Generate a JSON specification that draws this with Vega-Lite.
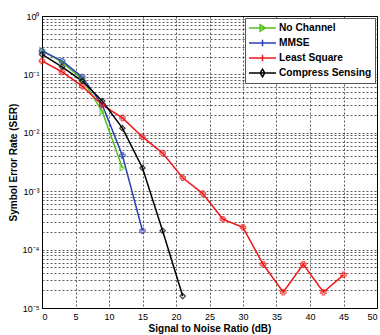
{
  "$schema": "https://vega.github.io/schema/vega-lite/v6.json",
  "width": 335,
  "height": 292,
  "autosize": "none",
  "padding": {"left": 42, "top": 16, "right": 3, "bottom": 27},
  "background": "white",
  "config": {
    "font": "Liberation Sans",
    "view": {"stroke": "black", "strokeWidth": 1},
    "axis": {
      "gridColor": "black", "gridDash": [2, 2], "gridOpacity": 0.8, "gridWidth": 0.8,
      "domainColor": "black", "tickColor": "black", "labelColor": "black", "titleColor": "black",
      "labelFontSize": 9, "titleFontSize": 10, "titleFontWeight": "bold"
    }
  },
  "data": {"values": [
    {"snr": 0, "ser": 0.26, "series": "No Channel"},
    {"snr": 3, "ser": 0.16, "series": "No Channel"},
    {"snr": 6, "ser": 0.083, "series": "No Channel"},
    {"snr": 9, "ser": 0.023, "series": "No Channel"},
    {"snr": 12, "ser": 0.0025, "series": "No Channel"},
    {"snr": 0, "ser": 0.25, "series": "MMSE"},
    {"snr": 3, "ser": 0.17, "series": "MMSE"},
    {"snr": 6, "ser": 0.09, "series": "MMSE"},
    {"snr": 9, "ser": 0.03, "series": "MMSE"},
    {"snr": 12, "ser": 0.0041, "series": "MMSE"},
    {"snr": 15, "ser": 0.00021, "series": "MMSE"},
    {"snr": 0, "ser": 0.17, "series": "Least Square"},
    {"snr": 3, "ser": 0.11, "series": "Least Square"},
    {"snr": 6, "ser": 0.063, "series": "Least Square"},
    {"snr": 9, "ser": 0.03, "series": "Least Square"},
    {"snr": 12, "ser": 0.018, "series": "Least Square"},
    {"snr": 15, "ser": 0.0085, "series": "Least Square"},
    {"snr": 18, "ser": 0.0045, "series": "Least Square"},
    {"snr": 21, "ser": 0.0017, "series": "Least Square"},
    {"snr": 24, "ser": 0.00091, "series": "Least Square"},
    {"snr": 27, "ser": 0.00033, "series": "Least Square"},
    {"snr": 30, "ser": 0.00024, "series": "Least Square"},
    {"snr": 33, "ser": 0.000056, "series": "Least Square"},
    {"snr": 36, "ser": 0.0000186, "series": "Least Square"},
    {"snr": 39, "ser": 0.000056, "series": "Least Square"},
    {"snr": 42, "ser": 0.0000186, "series": "Least Square"},
    {"snr": 45, "ser": 0.000037, "series": "Least Square"},
    {"snr": 0, "ser": 0.22, "series": "Compress Sensing"},
    {"snr": 3, "ser": 0.135, "series": "Compress Sensing"},
    {"snr": 6, "ser": 0.077, "series": "Compress Sensing"},
    {"snr": 9, "ser": 0.035, "series": "Compress Sensing"},
    {"snr": 12, "ser": 0.012, "series": "Compress Sensing"},
    {"snr": 15, "ser": 0.0025, "series": "Compress Sensing"},
    {"snr": 18, "ser": 0.00021, "series": "Compress Sensing"},
    {"snr": 21, "ser": 0.000016, "series": "Compress Sensing"}
  ]},
  "encoding": {
    "x": {"field": "snr", "type": "quantitative",
      "scale": {"domain": [0, 50], "nice": false},
      "axis": {"values": [0,5,10,15,20,25,30,35,40,45,50], "title": "Signal to Noise Ratio (dB)", "tickSize": 0, "labelPadding": 4, "titlePadding": 2}},
    "y": {"field": "ser", "type": "quantitative",
      "scale": {"type": "log", "domain": [0.00001, 1], "nice": false},
      "axis": {
        "values": [0.00001,0.00002,0.00003,0.00004,0.00005,0.00006,0.00007,0.00008,0.00009,
                   0.0001,0.0002,0.0003,0.0004,0.0005,0.0006,0.0007,0.0008,0.0009,
                   0.001,0.002,0.003,0.004,0.005,0.006,0.007,0.008,0.009,
                   0.01,0.02,0.03,0.04,0.05,0.06,0.07,0.08,0.09,
                   0.1,0.2,0.3,0.4,0.5,0.6,0.7,0.8,0.9,1],
        "labelExpr": "datum.value == 1 ? '10⁰' : datum.value == 0.1 ? '10⁻¹' : datum.value == 0.01 ? '10⁻²' : datum.value == 0.001 ? '10⁻³' : datum.value == 0.0001 ? '10⁻⁴' : datum.value == 0.00001 ? '10⁻⁵' : ''",
        "title": "Symbol Error Rate (SER)", "tickSize": 0, "labelPadding": 3, "titlePadding": 4}}
  },
  "layer": [
    {"mark": {"type": "line", "strokeWidth": 1.5},
     "encoding": {"color": {"field": "series", "type": "nominal",
        "scale": {"domain": ["No Channel", "MMSE", "Least Square", "Compress Sensing"],
                  "range": ["#55c21f", "#2a3fb5", "#f01818", "#000000"]},
        "legend": {"title": null, "orient": "top-right", "offset": 2, "fillColor": "white", "strokeColor": "#555",
          "padding": 3, "symbolSize": 729, "symbolStrokeWidth": 1.5, "symbolType": "stroke", "clipHeight": 14,
          "labelFont": "Liberation Sans", "labelFontSize": 10.2, "labelFontWeight": "bold", "labelColor": "black", "rowPadding": 1, "labelOffset": 2,
          "encode": {"symbols": {"update": {
            "shape": {"signal": "datum.value == 'No Channel' ? 'M-1,0H1M-0.18,-0.24L0.22,0L-0.18,0.24Z' : datum.value == 'MMSE' ? 'M-1,0H1M0,-0.24V0.24M-0.24,0H0.24' : datum.value == 'Least Square' ? 'M-1,0H1M0,-0.24V0.24M-0.24,0H0.24' : 'M-1,0H1M0,-0.28L0.17,0L0,0.28L-0.17,0Z'"},
            "size": {"value": 729},
            "fill": {"value": "transparent"},
            "strokeWidth": {"value": 1.5}
          }}}}}}},
    {"transform": [{"filter": "datum.series == 'No Channel'"}],
     "mark": {"type": "point", "shape": "triangle-right", "filled": false, "size": 28, "strokeWidth": 1.3, "color": "#55c21f"}},
    {"transform": [{"filter": "datum.series == 'MMSE'"}],
     "mark": {"type": "point", "shape": "cross", "filled": false, "size": 28, "strokeWidth": 1.3, "color": "#2a3fb5"}},
    {"transform": [{"filter": "datum.series == 'Least Square'"}],
     "mark": {"type": "point", "shape": "cross", "filled": false, "size": 28, "strokeWidth": 1.3, "color": "#f01818"}},
    {"transform": [{"filter": "datum.series == 'Compress Sensing'"}],
     "mark": {"type": "point", "shape": "diamond", "filled": false, "size": 28, "strokeWidth": 1.3, "color": "#000000"}}
  ]
}
